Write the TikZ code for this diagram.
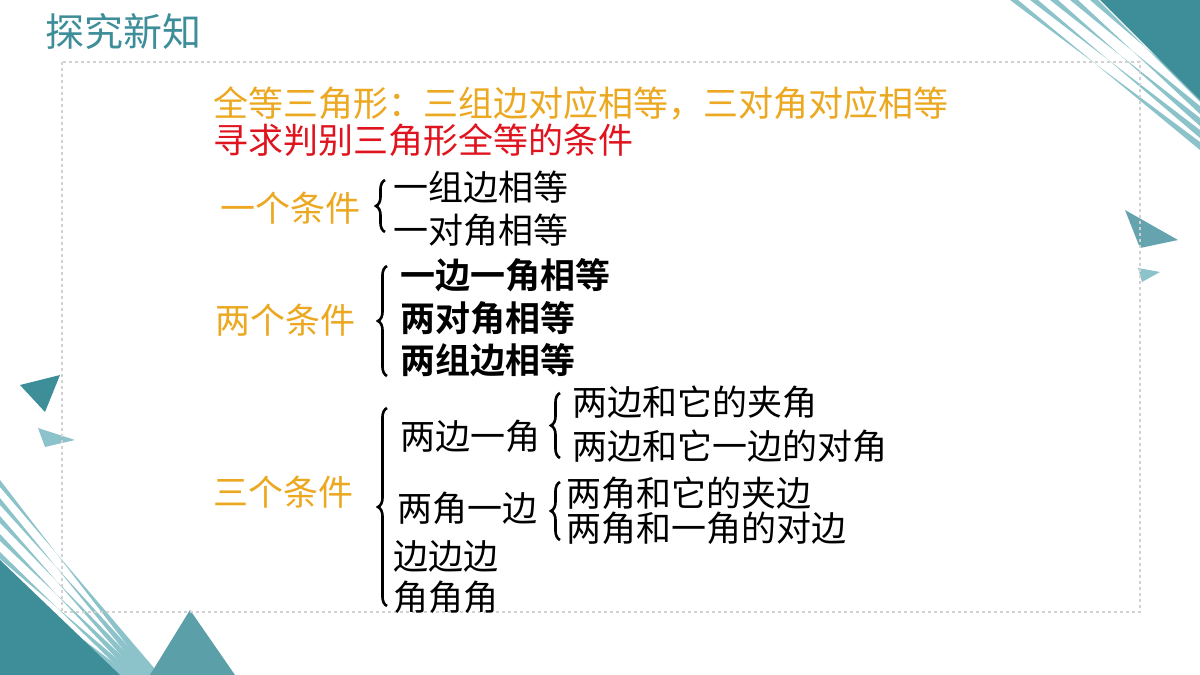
\documentclass[tikz,border=0pt]{standalone}
\usepackage{fontspec}
\setmainfont{Noto Sans CJK SC}[BoldFont={Noto Sans CJK SC Bold}]
\usetikzlibrary{decorations.pathreplacing}
\definecolor{teal1}{HTML}{3E8E9A}
\definecolor{teal2}{HTML}{8CC3CB}
\definecolor{org}{HTML}{EBA820}
\definecolor{rd}{HTML}{E0141E}
\begin{document}
\begin{tikzpicture}[x=1pt,y=-1pt,
  t/.style={anchor=west,inner sep=0pt,font=\fontsize{35}{37}\selectfont},
  tb/.style={t,font=\fontsize{35}{37}\selectfont\bfseries},
  o/.style={t,text=org},
  br/.style={decorate,decoration={brace,amplitude=9pt},line width=2.6pt},
  deco/.style={fill=teal1,draw=none}]
\useasboundingbox (0,0) rectangle (1200,675);
\fill[white] (0,0) rectangle (1200,675);
% decorations
\begin{scope}
\clip (0,0) rectangle (1200,675);
\foreach \i in {0,...,9}{\fill[teal2] (1010+\i*20,0) -- (1018+\i*20,0) -- (1200,150-\i*12) -- (1200,142-\i*12) -- cycle;}
\fill[teal1] (1100,0) -- (1200,0) -- (1200,100) -- cycle;
\fill[teal1!80] (1125,210) -- (1178,240) -- (1140,248) -- cycle;
\fill[teal2] (1138,268) -- (1160,272) -- (1142,282) -- cycle;
\fill[teal1] (20,385) -- (60,375) -- (45,412) -- cycle;
\fill[teal2] (38,428) -- (75,440) -- (45,447) -- cycle;
\foreach \i in {0,...,10}{\fill[teal2] (0,480+\i*18) -- (0,487+\i*18) -- (160-\i*6,675) -- (150-\i*6,675) -- cycle;}
\fill[teal1] (0,560) -- (120,675) -- (0,675) -- cycle;
\fill[teal1!85] (150,675) -- (190,610) -- (235,675) -- cycle;
\end{scope}
\draw[gray!35,dashed,line width=1.5pt] (62,62) rectangle (1140,612);
\node[anchor=west,inner sep=0pt,text=teal1,font=\fontsize{39}{41}\selectfont] (title) at (45,32) {探究新知};
\node[o] (l1) at (213,103) {全等三角形：三组边对应相等，三对角对应相等};
\node[t,text=rd] (l2) at (213,140) {寻求判别三角形全等的条件};
\node[o] (c1) at (220,208) {一个条件};
\node[t] (a1) at (393,187) {一组边相等};
\node[t] (a2) at (393,230) {一对角相等};
\draw[br] (385,232) -- (385,180);
\node[o] (c2) at (215,320) {两个条件};
\node[tb] (b1) at (400,275) {一边一角相等};
\node[tb] (b2) at (400,318) {两对角相等};
\node[tb] (b3) at (400,360) {两组边相等};
\draw[br] (387,376) -- (387,266);
\node[o] (c3) at (213,492) {三个条件};
\draw[br] (387,606) -- (387,408);
\node[t] (d1) at (400,436) {两边一角};
\draw[br] (560,458) -- (560,393);
\node[t] (e1) at (572,402) {两边和它的夹角};
\node[t] (e2) at (572,446) {两边和它一边的对角};
\node[t] (d2) at (397,508) {两角一边};
\draw[br] (560,540) -- (560,482);
\node[t] (f1) at (566,493) {两角和它的夹边};
\node[t] (f2) at (566,528) {两角和一角的对边};
\node[t] (d3) at (393,556) {边边边};
\node[t] (d4) at (393,597) {角角角};
\end{tikzpicture}
\end{document}
